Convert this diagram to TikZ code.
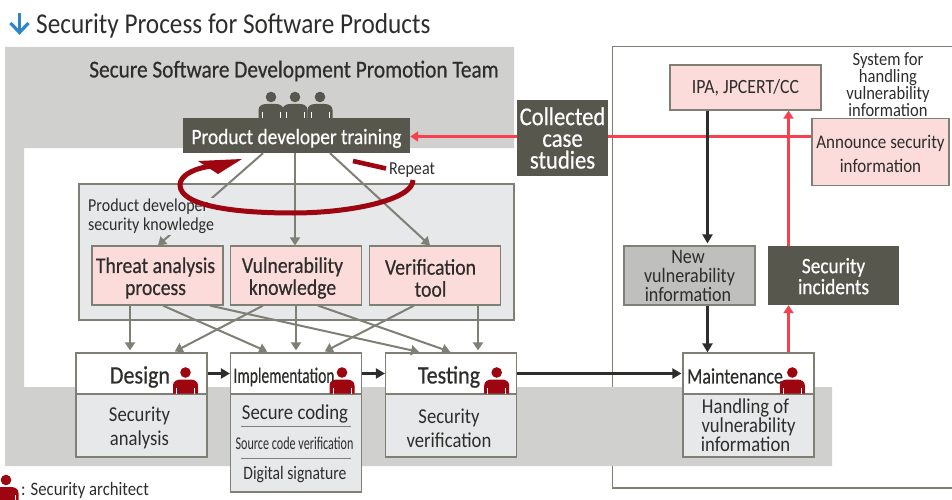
\documentclass[tikz,border=0pt]{standalone}
\usepackage{fontspec}
\usepackage{graphicx}
\usetikzlibrary{arrows.meta,calc}
\setmainfont[FakeStretch=0.88]{Carlito}
\newfontfamily\medfont[FakeStretch=0.88,FakeBold=0.5]{Carlito}
\definecolor{bandgray}{HTML}{D0D0CE}
\definecolor{darkbox}{HTML}{58574E}
\definecolor{pinkbox}{HTML}{FCDCDA}
\definecolor{lightbox}{HTML}{E7E8EA}
\definecolor{midbox}{HTML}{BFBFBD}
\definecolor{edgegray}{HTML}{7F7F75}
\definecolor{maroon}{HTML}{9D0510}
\definecolor{alertred}{HTML}{F8414F}
\definecolor{titleblue}{HTML}{2E86C8}
\definecolor{inktext}{HTML}{2E2D2C}
\newcommand{\fsz}[2]{\fontsize{#1}{#2}\selectfont}
\newcommand{\topgap}[1]{\rule{0pt}{#1pt}}
\newcommand{\sft}[1]{\hspace*{#1pt}}
\tikzset{
  x=1pt,y=-1pt,
  basebox/.style={inner sep=0pt,align=center,text=inktext},
  pinkstyle/.style={basebox,draw=edgegray,line width=1.2pt,fill=pinkbox,minimum width=131pt,minimum height=59pt},
  topstyle/.style={basebox,draw=edgegray,line width=1.2pt,fill=white,minimum width=131pt,minimum height=41pt},
  botstyle/.style={basebox,draw=edgegray,line width=1.2pt,fill=lightbox,minimum width=131pt},
  darkstyle/.style={basebox,fill=darkbox,text=white},
  label/.style={inner sep=0pt,align=center,text=inktext},
  grayarrow/.style={draw=edgegray,line width=2pt,-{Triangle[length=8pt,width=10pt]}},
  blackarrow/.style={draw=inktext,line width=2.3pt,-{Triangle[length=9pt,width=10pt]}},
  redarrow/.style={draw=alertred,line width=2.1pt,-{Triangle[length=8pt,width=10pt]}},
  redline/.style={draw=alertred,line width=2.1pt},
  pics/person/.style={code={
    \fill[#1] (0,-21) circle (5.3);
    \fill[#1] (-12.5,0) -- (-12.5,-8) .. controls (-12.5,-12) and (-9,-14) .. (-5,-14) -- (5,-14) .. controls (9,-14) and (12.5,-12) .. (12.5,-8) -- (12.5,0) -- cycle;
    \draw[white,line width=.8pt] (-9,-6) -- (-9,0) (9,-6) -- (9,0);
  }},
}
\begin{document}
\begin{tikzpicture}
\useasboundingbox (0,0) rectangle (952,500);
% blue title arrow and title
\draw[titleblue,line width=3.2pt] (19.5,13) -- (19.5,32);
\draw[titleblue,line width=3.2pt] (10.5,23) -- (19.5,32.5) -- (28.5,23);
\node[label,anchor=west,font=\fsz{28.7}{30}] (title) at (36,26) {Security Process for Software Products};
% frame and band
\draw[edgegray,line width=1.2pt] (952,46.5) -- (612.5,46.5) -- (612.5,488) -- (952,488);
\fill[bandgray] (5,47) -- (514,47) -- (514,148) -- (24,148) -- (24,387) -- (832,387) -- (832,466) -- (5,466) -- cycle;
\node[label,font=\medfont\fsz{24.2}{26}] (team) at (294,71) {Secure Software Development Promotion Team};
% knowledge container
\node[basebox,draw=edgegray,line width=1.2pt,fill=lightbox,minimum width=435pt,minimum height=136pt] (kbox) at (296.5,252) {};
% team icons
\pic at (271,118) {person=darkbox};
\pic at (295,118) {person=darkbox};
\pic at (320,118) {person=darkbox};
% boxes
\node[darkstyle,minimum width=227pt,minimum height=35pt,font=\medfont\fsz{22}{25}] (training) at (296.5,135.5) {\topgap{21}Product developer training};
\node[darkstyle,minimum width=91pt,minimum height=76pt,font=\medfont\fsz{25.7}{21.7}] (collected) at (562.5,138) {Collected\\case\\studies};
\node[pinkstyle,font=\medfont\fsz{22.4}{22}] (threat) at (157.5,275.5) {\topgap{20.5}Threat analysis\sft{4}\\process\sft{4}};
\node[pinkstyle,font=\medfont\fsz{22.4}{22}] (vuln) at (296,275.5) {\topgap{20.5}Vulnerability\sft{7}\\knowledge\sft{7}};
\node[pinkstyle,font=\medfont\fsz{22.4}{22}] (verif) at (435,275.5) {\topgap{20.5}Verification\sft{9}\\tool\sft{9}};
\node[topstyle] (design) at (141.5,373.5) {};
\node[botstyle,minimum height=63pt,font=\fsz{21.2}{24}] (designb) at (141.5,425.5) {\topgap{20}Security\sft{4}\\analysis\sft{4}};
\node[topstyle] (impl) at (296,373.5) {};
\node[botstyle,minimum height=98pt] (implb) at (296,443) {};
\node[topstyle] (test) at (451,373.5) {};
\node[botstyle,minimum height=63pt,font=\fsz{21.2}{24}] (testb) at (451,425.5) {\topgap{20}Security\sft{4}\\verification\sft{4}};
\node[topstyle] (maint) at (748.5,373.5) {};
\node[botstyle,minimum height=63pt,font=\fsz{21.2}{19}] (maintb) at (748.5,425.5) {Handling of\sft{6}\\vulnerability\sft{6}\\information\sft{6}};
\node[pinkstyle,minimum width=151pt,minimum height=45pt,font=\fsz{20.2}{24}] (ipa) at (745.5,87.5) {\topgap{15}IPA, JPCERT/CC};
\node[pinkstyle,minimum width=137pt,minimum height=67pt,font=\fsz{19.3}{24}] (announce) at (880.5,152) {\topgap{17.5}Announce security\\information};
\node[basebox,draw=edgegray,line width=1.2pt,fill=midbox,minimum width=131pt,minimum height=59pt,font=\fsz{20.5}{19}] (newv) at (689.5,275.5) {New\sft{3}\\vulnerability\sft{3}\\information\sft{3}};
\node[darkstyle,minimum width=131pt,minimum height=59pt,font=\medfont\fsz{22}{21}] (incid) at (833.5,275.5) {\topgap{16.5}Security\\incidents};
% head labels
\node[label,font=\medfont\fsz{25}{26}] (ldesign) at (140,377) {Design};
\node[label,font=\medfont\fsz{22}{26}] (limpl) at (284,377) {\scalebox{.8}[1]{Implementation}};
\node[label,font=\medfont\fsz{25}{26}] (ltest) at (449,377) {Testing};
\node[label,font=\medfont\fsz{22}{26}] (lmaint) at (735,376) {\scalebox{.925}[1]{Maintenance}};
\pic at (185.5,393.5) {person=maroon};
\pic at (342,393.5) {person=maroon};
\pic at (496.7,393.5) {person=maroon};
\pic at (792.3,393.5) {person=maroon};
% implementation inner text
\node[label,font=\fsz{21.3}{24}] (lcode) at (295,414) {Secure coding};
\node[label,font=\fsz{18}{20}] (lsrc) at (294.5,443) {\scalebox{.765}[1]{Source code verification}};
\node[label,font=\fsz{19}{22}] (lsig) at (295,475) {\scalebox{.936}[1]{Digital signature}};
\draw[edgegray,line width=1pt] (241,426.3) -- (351,426.3) (241,458.3) -- (351,458.3);
% gray connectors
\draw[grayarrow] ([xshift=-33.5pt]training.south) -- ([xshift=.5pt]threat.north);
\draw[grayarrow] ([xshift=-1.5pt]training.south) -- ([xshift=-1pt]vuln.north);
\draw[grayarrow] ([xshift=33.5pt]training.south) -- ([xshift=-5pt]verif.north);
\draw[grayarrow,shorten >=2pt] ([xshift=-27.5pt]threat.south) -- ([xshift=-11.5pt]design.north);
\draw[grayarrow,shorten >=2pt] ([xshift=5.5pt]threat.south) -- ([xshift=-27pt]impl.north);
\draw[grayarrow,shorten >=2pt] ([xshift=52.5pt]threat.south) -- ([xshift=-30pt]test.north);
\draw[grayarrow,shorten >=2pt] ([xshift=-33pt]vuln.south) -- ([xshift=31.5pt]design.north);
\draw[grayarrow,shorten >=2pt] (vuln.south) -- (impl.north);
\draw[grayarrow,shorten >=2pt] ([xshift=22pt]vuln.south) -- ([xshift=1pt]test.north);
\draw[grayarrow,shorten >=2pt] ([xshift=-21pt]verif.south) -- ([xshift=27pt]impl.north);
\draw[grayarrow,shorten >=2pt] ([xshift=43pt]verif.south) -- ([xshift=27pt]test.north);
% knowledge label covers the first arrow
\node[label,fill=lightbox,align=left,anchor=north west,inner xsep=0pt,inner ysep=1pt,font=\fsz{18.2}{19}] (lknow) at (88,198) {Product developer\\security knowledge};
% repeat swoosh
\draw[maroon,line width=4.6pt] (353,161) -- (386,168.5);
\node[label,font=\fsz{18.3}{20}] (lrepeat) at (412,170.5) {Repeat};
\draw[maroon,line width=5pt] (413,180) .. controls (413,200) and (350,213) .. (293,213) .. controls (230,213) and (180,205) .. (180,185) .. controls (180,175) and (195,168) .. (212,166);
\fill[maroon] (198,161) -- (242,159) -- (218,174) -- cycle;
% black connectors
\draw[blackarrow] (design.east) -- (impl.west);
\draw[blackarrow] (impl.east) -- (test.west);
\draw[blackarrow,shorten >=1pt] (test.east) -- (maint.west);
% red connectors
\coordinate (redy) at ([yshift=-1pt]training.east);
\draw[redline] (announce.west |- redy) -- (collected.east |- redy);
\draw[redarrow] (collected.west |- redy) -- (redy);
\draw[redarrow] ([xshift=-45pt]incid.north) -- ([xshift=-45pt]incid.north |- ipa.south);
\draw[redarrow] ([xshift=40pt]maint.north) -- ([xshift=40pt]maint.north |- incid.south);
\draw[blackarrow,shorten >=2pt] ([xshift=-38pt]ipa.south) -- ([xshift=-38pt]ipa.south |- newv.north);
\draw[blackarrow] ([xshift=18pt]newv.south) -- ([xshift=18pt]newv.south |- maint.north);
% right label
\node[label,font=\fsz{18.8}{16}] (lsystem) at (888,84.7) {System for\\handling\\vulnerability\\information};
% legend
\pic at (6,501) {person=maroon};
\node[label,anchor=west,font=\fsz{19}{20}] (llegend) at (21,490) {: Security architect};
\end{tikzpicture}
\end{document}
